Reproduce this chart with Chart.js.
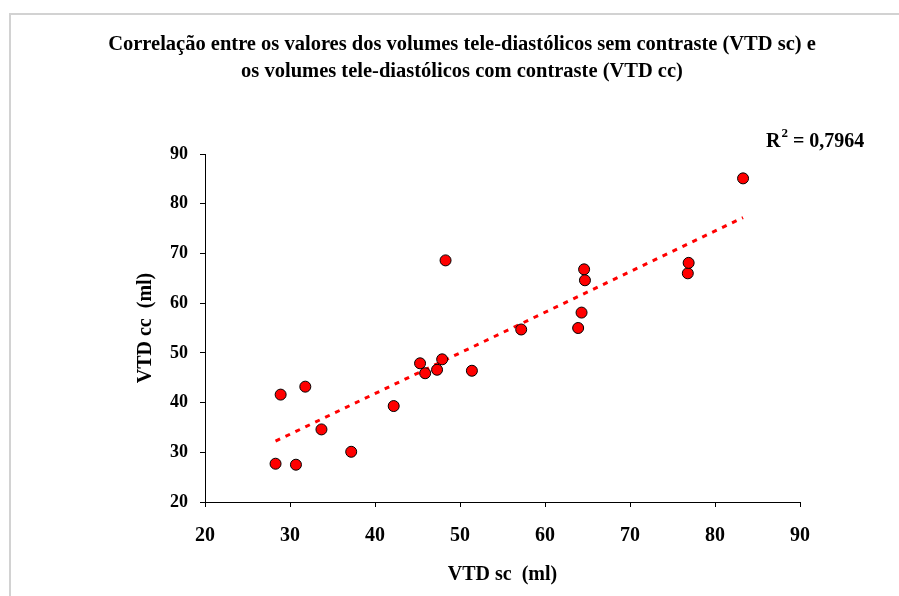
<!DOCTYPE html>
<html>
<head>
<meta charset="utf-8">
<script src="https://cdn.jsdelivr.net/npm/chart.js@4/dist/chart.umd.min.js"></script>
<style>
  html, body { margin: 0; padding: 0; background: #fff; }
  #wrap { position: relative; width: 899px; height: 596px; overflow: hidden; }
  #frame { position: absolute; left: 9px; top: 13px; width: 1000px; height: 1000px;
           border-top: 2px solid #d2d2d2; border-left: 2px solid #d2d2d2; }
  canvas { position: absolute; left: 0; top: 0; }
</style>
</head>
<body>
<div id="wrap">
  <div id="frame"></div>
  <canvas id="chart" width="899" height="596"></canvas>
</div>
<script>
// VTD sem contraste (x) / com contraste (y), ml
const vtdSc = [28.3, 28.9, 30.7, 31.8, 33.7, 37.2, 42.2, 45.3, 45.9, 47.3, 47.9,
               48.3, 51.4, 57.2, 63.9, 64.3, 64.6, 64.7, 76.8, 76.9, 83.3];
const vtdCc = [27.7, 41.6, 27.5, 43.2, 34.6, 30.1, 39.3, 47.9, 45.9, 46.6, 48.7,
               68.6, 46.4, 54.7, 55.0, 58.1, 66.8, 64.6, 66.0, 68.1, 85.1];

const titleLines = [
  "Correlação entre os valores dos volumes tele-diastólicos sem contraste (VTD sc) e",
  "os volumes tele-diastólicos com contraste (VTD cc)"
];
const xTitle = "VTD sc  (ml)";
const yTitle = "VTD cc  (ml)";
const r2Text = "0,7964";

const SERIF = "'Liberation Serif', 'Times New Roman', serif";

// linear trendline (least squares) over the data range
function trendPoints(xs, ys) {
  const n = xs.length;
  const mx = xs.reduce((a, b) => a + b, 0) / n;
  const my = ys.reduce((a, b) => a + b, 0) / n;
  let sxy = 0, sxx = 0;
  for (let i = 0; i < n; i++) {
    sxy += (xs[i] - mx) * (ys[i] - my);
    sxx += (xs[i] - mx) ** 2;
  }
  const b = sxy / sxx, a = my - b * mx;
  const x0 = Math.min(...xs), x1 = Math.max(...xs);
  return [{ x: x0, y: a + b * x0 }, { x: x1, y: a + b * x1 }];
}

// title (centred a bit right of the canvas middle, like the original) + R² label
const textLayer = {
  id: "textLayer",
  afterDraw(chart) {
    const ctx = chart.ctx;
    ctx.save();
    ctx.fillStyle = "#000";
    ctx.textBaseline = "alphabetic";

    ctx.textAlign = "center";
    ctx.font = "bold 20.5px " + SERIF;
    ctx.fillText(titleLines[0], 462, 50);
    ctx.fillText(titleLines[1], 462, 77);

    ctx.textAlign = "left";
    ctx.font = "bold 20px " + SERIF;
    let x = 766, y = 147;
    ctx.fillText("R", x, y);
    x += ctx.measureText("R").width + 1;
    ctx.font = "bold 13px " + SERIF;
    ctx.fillText("2", x, y - 10);
    x += ctx.measureText("2").width;
    ctx.font = "bold 20px " + SERIF;
    ctx.fillText(" = " + r2Text, x, y);
    ctx.restore();
  }
};

const axisGrid = { drawOnChartArea: false, drawTicks: true, tickLength: 5, color: "#000" };
const axisBorder = { display: true, color: "#000", width: 1 };

new Chart(document.getElementById("chart"), {
  type: "scatter",
  data: {
    datasets: [
      {
        label: "VTD",
        data: vtdSc.map((x, i) => ({ x, y: vtdCc[i] })),
        backgroundColor: "#ff0000",
        borderColor: "#000",
        borderWidth: 1,
        pointRadius: 5.5,
        order: 0
      },
      {
        type: "line",
        label: "Linear",
        data: trendPoints(vtdSc, vtdCc),
        borderColor: "#ff0000",
        borderWidth: 3,
        borderDash: [5, 6],
        pointRadius: 0,
        fill: false,
        order: 1
      }
    ]
  },
  options: {
    responsive: false,
    animation: false,
    layout: { padding: { left: 0, right: 99, top: 154, bottom: 0 } },
    plugins: {
      legend: { display: false },
      tooltip: { enabled: false },
      title: { display: false }
    },
    scales: {
      x: {
        type: "linear",
        min: 20, max: 90,
        ticks: { stepSize: 10, color: "#000", padding: 17,
                 font: { family: SERIF, size: 20, weight: "bold" } },
        grid: axisGrid,
        border: axisBorder,
        title: { display: true, text: xTitle, color: "#000",
                 font: { family: SERIF, size: 20, weight: "bold" },
                 padding: { top: 0, bottom: 9 } },
        afterFit(scale) { scale.height = 94; }
      },
      y: {
        type: "linear",
        min: 20, max: 90,
        ticks: { stepSize: 10, color: "#000", padding: 12,
                 font: { family: SERIF, size: 18, weight: "bold" } },
        grid: axisGrid,
        border: axisBorder,
        title: { display: true, text: yTitle, color: "#000",
                 font: { family: SERIF, size: 20, weight: "bold" },
                 padding: { top: 134, bottom: 0 } },
        afterFit(scale) { scale.width = 205; }
      }
    }
  },
  plugins: [textLayer]
});
</script>
</body>
</html>
